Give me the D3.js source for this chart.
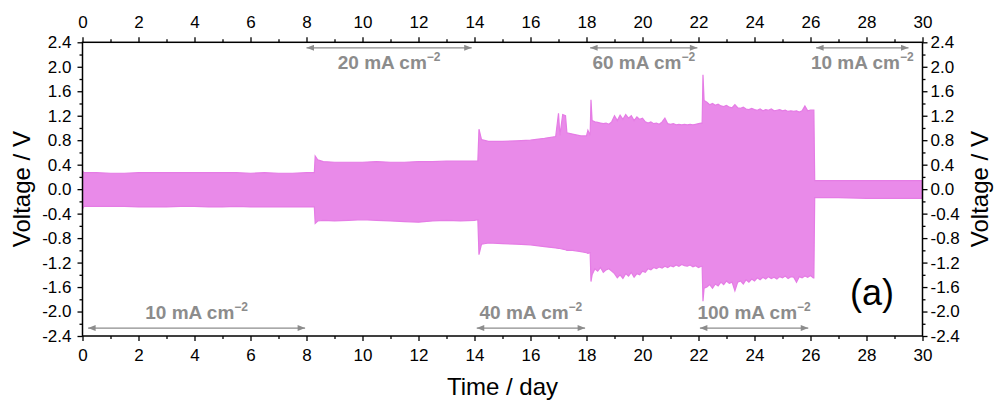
<!DOCTYPE html>
<html>
<head>
<meta charset="utf-8">
<script src="https://cdn.jsdelivr.net/npm/d3@7"></script>
<style>
  body { margin: 0; background: #fff; }
  svg { display: block; }
  text { font-family: "Liberation Sans", Arial, sans-serif; }
</style>
</head>
<body>
<svg id="chart" width="994" height="401"></svg>
<script>
// Galvanostatic cycling: upper / lower voltage envelope over time (days)
const timeDays = [
  0.00, 0.05, 0.5, 1.0, 1.5, 2.0, 2.5, 3.0, 3.5, 4.0, 4.5, 5.0, 5.5, 6.0, 6.5, 7.0, 7.5, 8.0, 8.28,
  8.31, 8.4, 8.6, 9.0, 9.5, 10.0, 10.5, 11.0, 11.5, 12.0, 12.5, 13.0, 13.5, 14.0, 14.12,
  14.16, 14.25, 14.5, 15.0, 15.5, 16.0, 16.5, 16.9, 17.0, 17.05, 17.15, 17.25, 17.3, 17.5, 17.8, 18.0, 18.05, 18.13,
  18.16, 18.2, 18.3, 18.4, 18.5, 18.6, 18.7, 18.8, 18.9, 19.0, 19.1, 19.2, 19.3, 19.4, 19.5, 19.6, 19.7, 19.8, 19.9,
  20.0, 20.1, 20.2, 20.3, 20.4, 20.5, 20.6, 20.7, 20.8, 20.9, 21.0, 21.1, 21.2, 21.3, 21.4, 21.5, 21.6, 21.7, 21.8, 21.9,
  22.0, 22.1, 22.13,
  22.16, 22.2, 22.3, 22.4, 22.5, 22.6, 22.7, 22.8, 22.9, 23.0, 23.1, 23.2, 23.3, 23.4, 23.5, 23.6, 23.7, 23.8, 23.9,
  24.0, 24.1, 24.2, 24.3, 24.4, 24.5, 24.6, 24.7, 24.8, 24.9, 25.0, 25.1, 25.2, 25.3, 25.4, 25.5, 25.6, 25.7, 25.8, 25.9,
  26.0, 26.1, 26.12,
  26.15, 27.0, 28.0, 29.0, 30.0
];
const upperV = [
  0.30, 0.27, 0.27, 0.26, 0.26, 0.27, 0.27, 0.27, 0.27, 0.27, 0.27, 0.27, 0.27, 0.26, 0.27, 0.26, 0.26, 0.27, 0.27,
  0.54, 0.48, 0.45, 0.44, 0.44, 0.44, 0.45, 0.44, 0.44, 0.45, 0.45, 0.46, 0.46, 0.46, 0.46,
  0.98, 0.81, 0.78, 0.78, 0.79, 0.80, 0.83, 0.86, 1.24, 0.88, 1.22, 1.20, 0.92, 0.90, 0.87, 0.87, 0.96, 0.88,
  1.46, 1.12, 1.10, 1.09, 1.08, 1.07, 1.08, 1.06, 1.10, 1.20, 1.12, 1.21, 1.14, 1.22, 1.16, 1.20, 1.12, 1.18, 1.14,
  1.16, 1.10, 1.08, 1.10, 1.07, 1.08, 1.06, 1.10, 1.16, 1.07, 1.06, 1.07, 1.05, 1.06, 1.05, 1.06, 1.05, 1.06, 1.05, 1.06,
  1.07, 1.08, 1.08,
  1.87, 1.45, 1.42, 1.38, 1.40, 1.37, 1.39, 1.36, 1.35, 1.37, 1.34, 1.33, 1.38, 1.33, 1.32, 1.34, 1.31, 1.30, 1.32,
  1.30, 1.29, 1.31, 1.28, 1.30, 1.29, 1.31, 1.28, 1.29, 1.30, 1.28, 1.29, 1.27, 1.28, 1.27, 1.28, 1.26, 1.28, 1.36, 1.28,
  1.29, 1.29, 1.29,
  0.14, 0.14, 0.14, 0.14, 0.14
];
const lowerV = [
  -0.33, -0.28, -0.28, -0.28, -0.28, -0.29, -0.29, -0.29, -0.28, -0.28, -0.29, -0.29, -0.28, -0.29, -0.29, -0.29, -0.29, -0.29, -0.29,
  -0.56, -0.52, -0.51, -0.52, -0.51, -0.50, -0.51, -0.52, -0.53, -0.54, -0.52, -0.51, -0.52, -0.51, -0.50,
  -1.07, -0.90, -0.88, -0.89, -0.90, -0.91, -0.94, -0.96, -0.97, -0.97, -0.98, -0.99, -1.00, -1.00, -1.02, -1.04, -1.05, -1.04,
  -1.51, -1.40, -1.30, -1.34, -1.28, -1.36, -1.32, -1.30, -1.34, -1.38, -1.45, -1.40, -1.46, -1.38, -1.42, -1.36, -1.44, -1.38, -1.40,
  -1.34, -1.36, -1.30, -1.32, -1.28, -1.30, -1.27, -1.29, -1.26, -1.28, -1.25, -1.27, -1.24, -1.26, -1.23, -1.25, -1.26, -1.24, -1.27, -1.25,
  -1.28, -1.26, -1.26,
  -1.83, -1.62, -1.60, -1.56, -1.62, -1.55, -1.58, -1.52, -1.56, -1.50, -1.54, -1.52, -1.66, -1.52, -1.50, -1.55, -1.48, -1.52, -1.47,
  -1.50, -1.45, -1.48, -1.44, -1.47, -1.43, -1.46, -1.44, -1.47, -1.43, -1.45, -1.42, -1.46, -1.43, -1.44, -1.52, -1.43, -1.45, -1.42, -1.44,
  -1.41, -1.45, -1.45,
  -0.14, -0.14, -0.15, -0.15, -0.15
];

// Axis ticks
const xMajorTicks = [0, 2, 4, 6, 8, 10, 12, 14, 16, 18, 20, 22, 24, 26, 28, 30];
const xMinorTicks = [1, 3, 5, 7, 9, 11, 13, 15, 17, 19, 21, 23, 25, 27, 29];
const yMajorTicks = [-2.4, -2.0, -1.6, -1.2, -0.8, -0.4, 0.0, 0.4, 0.8, 1.2, 1.6, 2.0, 2.4];
const yMinorTicks = [-2.2, -1.8, -1.4, -1.0, -0.6, -0.2, 0.2, 0.6, 1.0, 1.4, 1.8, 2.2];

// Current-density steps (mA cm^-2) and the day ranges they span
const currentDensity = [10, 20, 40, 60, 100, 10];
const stepStartDay = [0.2, 8.0, 14.08, 18.13, 22.05, 26.2];
const stepEndDay = [7.95, 13.9, 17.95, 21.96, 25.92, 29.5];

const svg = d3.select("#chart");
const margin = { left: 82.5, right: 994 - 922.5, top: 42.3, bottom: 401 - 336 };
const W = 994, H = 401;
const x = d3.scaleLinear().domain([0, 30]).range([margin.left, W - margin.right]);
const y = d3.scaleLinear().domain([-2.4, 2.4]).range([H - margin.bottom, margin.top]);

const pink = "#E98AE9";
const grey = "#8C8C8C";

// Voltage envelope
const pts = timeDays.map((t, i) => ({ t, hi: upperV[i], lo: lowerV[i] }));
const area = d3.area().x(d => x(d.t)).y0(d => y(d.lo)).y1(d => y(d.hi));
svg.append("path").datum(pts).attr("d", area).attr("fill", pink);
svg.append("path").datum(pts)
  .attr("d", d3.line().x(d => x(d.t)).y(d => y(d.hi)))
  .attr("fill", "none").attr("stroke", "#E57CE5").attr("stroke-width", 1.2);
svg.append("path").datum(pts)
  .attr("d", d3.line().x(d => x(d.t)).y(d => y(d.lo)))
  .attr("fill", "none").attr("stroke", "#E57CE5").attr("stroke-width", 1.2);

// Axes
const fmtY = d => d.toFixed(1);
function styleAxis(g) {
  g.select(".domain").remove();
  g.selectAll(".tick line").attr("stroke", "#000").attr("stroke-width", 1.3);
  g.selectAll(".tick text").attr("fill", "#000").style("font-size", "17px")
    .style("font-family", '"Liberation Sans", Arial, sans-serif');
}
const y0 = y.range()[0], y1 = y.range()[1];
const x0 = x.range()[0], x1 = x.range()[1];

svg.append("g").attr("transform", `translate(0,${y0})`)
  .call(d3.axisBottom(x).tickValues(xMajorTicks).tickSize(5).tickPadding(8).tickFormat(d3.format("d"))).call(styleAxis);
svg.append("g").attr("transform", `translate(0,${y0})`)
  .call(d3.axisBottom(x).tickValues(xMinorTicks).tickSize(3).tickFormat("")).call(styleAxis);
svg.append("g").attr("transform", `translate(0,${y1})`)
  .call(d3.axisTop(x).tickValues(xMajorTicks).tickSize(5).tickPadding(9).tickFormat(d3.format("d"))).call(styleAxis);
svg.append("g").attr("transform", `translate(0,${y1})`)
  .call(d3.axisTop(x).tickValues(xMinorTicks).tickSize(3).tickFormat("")).call(styleAxis);
svg.append("g").attr("transform", `translate(${x0},0)`)
  .call(d3.axisLeft(y).tickValues(yMajorTicks).tickSize(5).tickPadding(6).tickFormat(fmtY)).call(styleAxis);
svg.append("g").attr("transform", `translate(${x0},0)`)
  .call(d3.axisLeft(y).tickValues(yMinorTicks).tickSize(3).tickFormat("")).call(styleAxis);
svg.append("g").attr("transform", `translate(${x1},0)`)
  .call(d3.axisRight(y).tickValues(yMajorTicks).tickSize(5).tickPadding(3).tickFormat(fmtY)).call(styleAxis);
svg.append("g").attr("transform", `translate(${x1},0)`)
  .call(d3.axisRight(y).tickValues(yMinorTicks).tickSize(3).tickFormat("")).call(styleAxis);

// Frame
svg.append("rect").attr("x", x0).attr("y", y1).attr("width", x1 - x0).attr("height", y0 - y1)
  .attr("fill", "none").attr("stroke", "#000").attr("stroke-width", 1.5);

// Axis titles
svg.append("text").attr("x", (x0 + x1) / 2).attr("y", 395).attr("text-anchor", "middle")
  .style("font-size", "24px").text("Time / day");
svg.append("text").attr("transform", `translate(30,${y(0)}) rotate(-90)`).attr("text-anchor", "middle")
  .style("font-size", "24px").text("Voltage / V");
svg.append("text").attr("transform", `translate(988,${y(0)}) rotate(-90)`).attr("text-anchor", "middle")
  .style("font-size", "24px").text("Voltage / V");

// Panel label
svg.append("text").attr("x", 872).attr("y", 305).attr("text-anchor", "middle")
  .style("font-size", "36px").text("(a)");

// Current-density annotations with double-headed arrows
const defs = svg.append("defs");
defs.append("marker").attr("id", "ah").attr("viewBox", "0 0 10 8")
  .attr("refX", 10).attr("refY", 4).attr("markerWidth", 9).attr("markerHeight", 6)
  .attr("markerUnits", "userSpaceOnUse").attr("orient", "auto-start-reverse")
  .append("path").attr("d", "M0,0 L10,4 L0,8 Z").attr("fill", grey);

currentDensity.forEach((c, i) => {
  const top = i % 2 === 1;
  const ay = top ? y(2.31) : y(-2.27);
  const ty = top ? y(1.96) : y(-2.13);
  const xa = x(stepStartDay[i]), xb = x(stepEndDay[i]);
  svg.append("line").attr("x1", xa).attr("x2", xb).attr("y1", ay).attr("y2", ay)
    .attr("stroke", grey).attr("stroke-width", 1.3)
    .attr("marker-start", "url(#ah)").attr("marker-end", "url(#ah)");
  const t = svg.append("text").attr("x", (xa + xb) / 2).attr("y", ty).attr("text-anchor", "middle")
    .attr("fill", grey).style("font-size", "19px").style("font-weight", "bold");
  t.append("tspan").text(`${c} mA cm`);
  t.append("tspan").attr("dy", -8).style("font-size", "12px").text("\u22122");
});
</script>
</body>
</html>
